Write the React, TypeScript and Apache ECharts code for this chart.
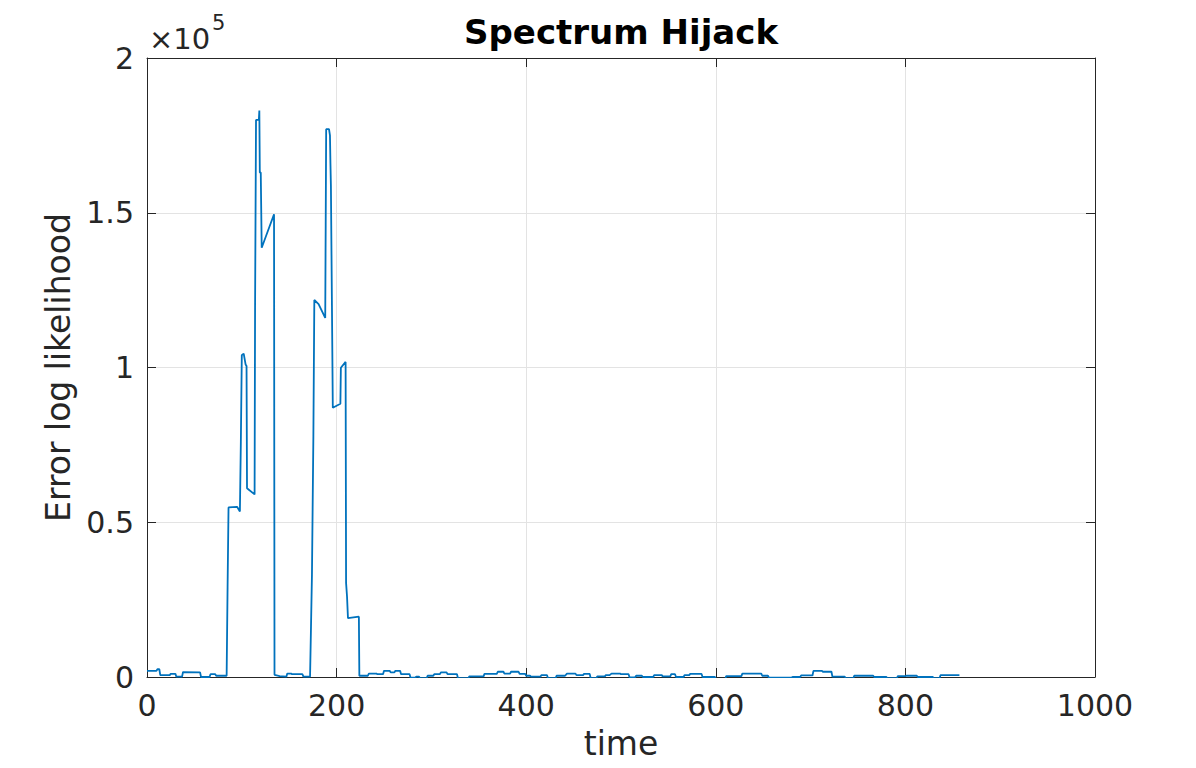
import React, { useEffect, useRef } from "react";
import * as echarts from "echarts";

const titleText = "Spectrum Hijack";
const xName = "time";
const yName = "Error log likelihood";
const xTicks = { min: 0, max: 1000, interval: 200 };
const yTicks = { min: 0, max: 200000, interval: 50000 };

const times: number[] = [
  0, 10, 11, 13, 14, 24, 25, 30, 31, 37, 38, 56, 57, 66, 67, 72, 73, 84,
  85, 86, 95, 98, 99, 100, 102, 104, 105, 105.5, 113.5, 114, 115, 118, 118.5, 119, 120, 121, 134, 134.5,
  140, 147, 148, 152, 153, 164, 165, 172,
  173, 174, 175.5, 176.5, 181, 188, 188.5, 189, 192, 193, 193.5, 194, 195, 196, 204, 204.5, 209.5, 210, 211, 212, 223.5, 224,
  233, 234, 242, 243, 249, 250, 256, 257, 261, 262, 267, 268, 277, 278, 283, 284, 287, 288, 295, 296, 302, 303, 309,
  310, 316, 317, 327, 328, 339, 340, 355, 356, 369, 370, 376, 377, 383, 384, 392, 393, 399, 400, 404, 405, 415,
  416, 422, 423, 431, 432, 441, 443, 452, 453, 460, 461, 467, 468, 474, 475, 483, 484, 488, 490, 499, 500, 508,
  509, 515, 516, 522, 523, 534, 535, 543, 544, 552, 553, 557, 558, 566, 567, 572, 573, 585, 586, 599, 600, 610,
  611, 627, 628, 648, 649, 655, 656, 680, 681, 689, 690, 702, 703, 712, 713, 722, 723, 736, 737, 745, 746, 766,
  767, 780, 781, 791, 792, 800, 801, 812, 813, 829, 830, 836, 837, 857,
];

const values: number[] = [
  2000, 2000, 2500, 2500, 600, 600, 1000, 1000, 100, 100, 1600, 1500, 0, 0, 900, 900, 400, 400,
  29000, 54800, 55000, 53500, 76000, 104000, 104500, 101000, 100500, 61000, 59000, 119500, 180000, 180000, 183000, 163000, 163000, 138700, 149500, 700,
  300, 100, 1100, 1100, 900, 900, 100, 100,
  16300, 33000, 77800, 121800, 120500, 116000, 146000, 177000, 177000, 175000, 166000, 158700, 123000, 87000, 88300, 99900, 101800, 30400, 26000, 19000, 19500, 400,
  400, 1100, 1100, 900, 900, 2000, 2000, 1500, 1500, 2000, 2000, 900, 900, -200, -200, 100, 100, -400, -400, 400, 400, 900, 900,
  1500, 1500, 900, 900, -400, -400, 200, 200, 1000, 1000, 1700, 1700, 1100, 1100, 1700, 1700, 1000, 1000, 400, 400, 100, 100,
  600, 600, -400, -400, 400, 400, 1100, 1100, 600, 600, 1000, 1000, -400, -400, 200, 200, 600, 600, 1100, 1100, 900, 900,
  -100, -100, 400, 400, 0, 0, 600, 600, 200, 200, 900, 900, 0, 0, 600, 600, 1000, 1000, 0, 0, -600, -600,
  300, 300, 1100, 1100, 400, 400, -200, -200, 0, 0, 500, 500, 2000, 2000, 1700, 1700, 100, 100, -400, -400, 400, 400,
  0, 0, -400, -400, 300, 300, 400, 400, 0, 0, -400, -400, 600, 600,
];

const FONT = "DejaVu Sans";
const INK = "#262626";

export default function App() {
  const ref = useRef<HTMLDivElement>(null);
  useEffect(() => {
    if (!ref.current) return;
    const chart = echarts.init(ref.current, undefined, { renderer: "svg" });
    const data = times.map((t, i) => [t, values[i]]);
    const gridL = 147, gridR = 101, gridT = 58, gridB = 91;
    const tickCommon = { show: true, inside: true, length: 9, lineStyle: { color: INK, width: 1 } };
    const lineCommon = { show: true, onZero: false, lineStyle: { color: INK, width: 1 } };
    chart.setOption({
      animation: false,
      backgroundColor: "#ffffff",
      grid: { left: gridL, right: gridR, top: gridT, bottom: gridB, containLabel: false },
      xAxis: [
        {
          type: "value",
          ...xTicks,
          name: xName,
          nameLocation: "middle",
          nameGap: 50,
          nameTextStyle: { fontFamily: FONT, fontSize: 33, color: INK },
          axisLine: lineCommon,
          axisTick: tickCommon,
          axisLabel: {
            fontFamily: FONT,
            fontSize: 30,
            color: INK,
            margin: 13,
            formatter: (v: number) => String(v),
          },
          splitLine: { show: true, lineStyle: { color: "#e3e3e3", width: 1 } },
        },
        {
          type: "value",
          position: "top",
          ...xTicks,
          axisLine: lineCommon,
          axisTick: tickCommon,
          axisLabel: { show: false },
          splitLine: { show: false },
        },
      ],
      yAxis: [
        {
          type: "value",
          ...yTicks,
          name: yName,
          nameLocation: "middle",
          nameGap: 68,
          nameTextStyle: { fontFamily: FONT, fontSize: 33, color: INK },
          axisLine: lineCommon,
          axisTick: tickCommon,
          axisLabel: {
            fontFamily: FONT,
            fontSize: 30,
            color: INK,
            margin: 13,
            formatter: (v: number) => String(v / 1e5),
          },
          splitLine: { show: true, lineStyle: { color: "#e3e3e3", width: 1 } },
        },
        {
          type: "value",
          position: "right",
          ...yTicks,
          axisLine: lineCommon,
          axisTick: tickCommon,
          axisLabel: { show: false },
          splitLine: { show: false },
        },
      ],
      graphic: [
        {
          type: "text",
          x: 621,
          y: 32,
          style: {
            text: titleText,
            fontFamily: FONT,
            fontSize: 34,
            fontWeight: "bold",
            fill: "#000000",
            textAlign: "center",
            textVerticalAlign: "middle",
          },
        },
        {
          type: "text",
          x: 149,
          y: 39,
          style: {
            text: "×10",
            fontFamily: FONT,
            fontSize: 29,
            fill: INK,
            textAlign: "left",
            textVerticalAlign: "middle",
          },
        },
        {
          type: "text",
          x: 212,
          y: 23,
          style: {
            text: "5",
            fontFamily: FONT,
            fontSize: 21,
            fill: INK,
            textAlign: "left",
            textVerticalAlign: "middle",
          },
        },
      ],
      series: [
        {
          type: "line",
          data,
          xAxisIndex: 0,
          yAxisIndex: 0,
          showSymbol: false,
          symbol: "none",
          lineStyle: { color: "#0072BD", width: 1.8 },
          clip: true,
        },
      ],
    });
    return () => chart.dispose();
  }, []);
  return (
    <div
      ref={ref}
      style={{ position: "fixed", left: 0, top: 0, width: 1196, height: 768, background: "#fff" }}
    />
  );
}
